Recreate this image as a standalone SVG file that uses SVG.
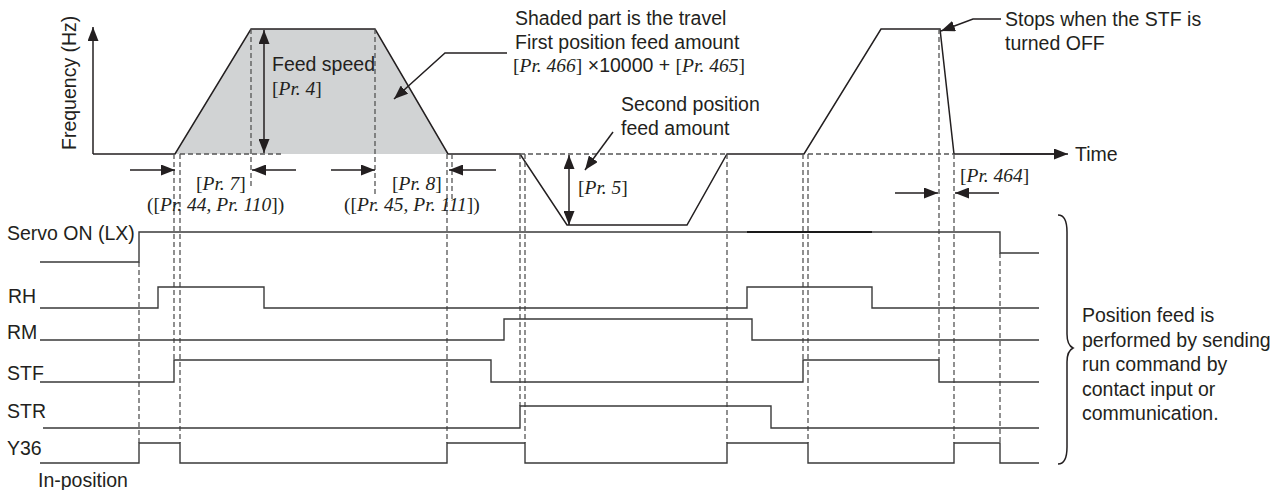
<svg xmlns="http://www.w3.org/2000/svg" width="1287" height="490" viewBox="0 0 1287 490">
<style>
.ln{stroke:#231f20;stroke-width:1.5;fill:none}
.sig{stroke:#3a3a3a;stroke-width:1.4;fill:none}
.dash{stroke:#555;stroke-width:1.3;stroke-dasharray:5 3;fill:none}
.t{font-family:"Liberation Sans",Arial,sans-serif;font-size:19.5px;fill:#231f20}
.s{font-family:"Liberation Serif","Times New Roman",serif;font-size:19.5px;fill:#231f20}
.it{font-style:italic}
.ar{stroke:#231f20;stroke-width:1.5;fill:none;marker-end:url(#ah)}
.ar2{stroke:#231f20;stroke-width:1.5;fill:none;marker-start:url(#ah);marker-end:url(#ah)}
</style>
<defs>
<marker id="ah" markerUnits="userSpaceOnUse" markerWidth="15" markerHeight="11" refX="14" refY="5.5" orient="auto-start-reverse" viewBox="0 0 15 11">
<path d="M0,0 L14,5.5 L0,11 z" fill="#231f20"/>
</marker>
</defs>
<rect width="1287" height="490" fill="#fff"/>

<g id="frequency-graph">
<polygon points="175,154 251,29 375,29 448,154" fill="#d1d3d4"/>
<polyline class="ln" points="93,154 175,154 251,29 375,29 448,154 520,154 567,225 687,225 727,154 804,154 881,29 940,29 954,154 1060,154"/>
<line class="ar" x1="93" y1="154" x2="93" y2="27"/>
<line class="ar" x1="1000" y1="154" x2="1068" y2="154"/>
<line class="dash" x1="180" y1="154" x2="283" y2="154"/>
<line class="dash" x1="520" y1="154" x2="727" y2="154"/>
<line class="dash" x1="808" y1="154" x2="953" y2="154"/>
<text class="t" transform="translate(76,150) rotate(-90)">Frequency (Hz)</text>
<text class="t" x="1075" y="161">Time</text>
</g>

<g id="guides">
<line class="dash" x1="139" y1="262" x2="139" y2="443"/>
<line class="dash" x1="174" y1="154" x2="174" y2="360"/>
<line class="dash" x1="180" y1="154" x2="180" y2="443"/>
<line class="dash" x1="251" y1="29" x2="251" y2="187"/>
<line class="dash" x1="375" y1="29" x2="375" y2="195"/>
<line class="dash" x1="447" y1="154" x2="447" y2="443"/>
<line class="dash" x1="452" y1="154" x2="452" y2="200"/>
<line class="dash" x1="520" y1="154" x2="520" y2="406"/>
<line class="dash" x1="525" y1="154" x2="525" y2="443"/>
<line class="dash" x1="727" y1="154" x2="727" y2="443"/>
<line class="dash" x1="803" y1="154" x2="803" y2="360"/>
<line class="dash" x1="808" y1="154" x2="808" y2="443"/>
<line class="dash" x1="939" y1="29" x2="939" y2="360"/>
<line class="dash" x1="954" y1="154" x2="954" y2="443"/>
<line class="dash" x1="1000" y1="253" x2="1000" y2="443"/>
</g>

<g id="connectors">
<line class="ar2" x1="264" y1="30" x2="264" y2="153"/>
<line class="ar" x1="130" y1="170" x2="175" y2="170"/>
<line class="ar" x1="296" y1="170" x2="252" y2="170"/>
<line class="ar" x1="331" y1="170" x2="375" y2="170"/>
<line class="ar" x1="496" y1="170" x2="449" y2="170"/>
<line class="ar2" x1="569" y1="155" x2="569" y2="225"/>
<line class="ar" x1="895" y1="193" x2="938" y2="193"/>
<line class="ar" x1="999" y1="193" x2="955" y2="193"/>
<polyline class="ar" points="507,53 445,53 394,99"/>
<line class="ar" x1="613" y1="132" x2="585" y2="170"/>
<polyline class="ar" points="1001,19 973,19 941,31"/>
</g>

<g id="annotations">
<text class="t" x="272" y="71">Feed speed</text>
<text class="s" x="272" y="95">[<tspan class="it">Pr. 4</tspan>]</text>
<text class="s" x="196" y="190">[<tspan class="it">Pr. 7</tspan>]</text>
<text class="s" x="147" y="211">([<tspan class="it">Pr. 44, Pr. 110</tspan>])</text>
<text class="s" x="392" y="190">[<tspan class="it">Pr. 8</tspan>]</text>
<text class="s" x="344" y="211">([<tspan class="it">Pr. 45, Pr. 111</tspan>])</text>
<text class="s" x="578" y="194">[<tspan class="it">Pr. 5</tspan>]</text>
<text class="s" x="960" y="182">[<tspan class="it">Pr. 464</tspan>]</text>
<text class="t" x="515" y="25">Shaded part is the travel</text>
<text class="t" x="515" y="48.5">First position feed amount</text>
<text class="s" x="513" y="72">[<tspan class="it">Pr. 466</tspan>]<tspan class="t"> ×10000 + </tspan>[<tspan class="it">Pr. 465</tspan>]</text>
<text class="t" x="621" y="110.5">Second position</text>
<text class="t" x="621" y="135">feed amount</text>
<text class="t" x="1005" y="26">Stops when the STF is</text>
<text class="t" x="1005" y="50">turned OFF</text>
</g>

<g id="signals">
<polyline class="sig" points="40,262 139,262 139,232 1000,232 1000,253 1039,253"/>
<line x1="747" y1="232" x2="872" y2="232" stroke="#1a1a1a" stroke-width="2.2"/>
<polyline class="sig" points="40,308 158,308 158,287 264,287 264,308 747,308 747,287 872,287 872,308 1039,308"/>
<polyline class="sig" points="40,340 504,340 504,319 752,319 752,340 1039,340"/>
<polyline class="sig" points="40,382 174,382 174,360 491,360 491,382 803,382 803,360 939,360 939,382 1039,382"/>
<polyline class="sig" points="43,428 520,428 520,406 771,406 771,428 1039,428"/>
<polyline class="sig" points="40,463 139,463 139,443 180,443 180,463 447,463 447,443 525,443 525,463 727,463 727,443 808,443 808,463 954,463 954,443 1000,443 1000,463 1039,463"/>
<text class="t" x="7" y="240">Servo ON (LX)</text>
<text class="t" x="8" y="303">RH</text>
<text class="t" x="7" y="339">RM</text>
<text class="t" x="7" y="380">STF</text>
<text class="t" x="7" y="418">STR</text>
<text class="t" x="7" y="455">Y36</text>
<text class="t" x="38" y="487">In-position</text>
</g>

<g id="note">
<path class="ln" d="M1058,215 C1065,215 1067,222 1067,232 L1067,334 C1067,342 1069,346 1073,348 C1069,350 1067,354 1067,362 L1067,447 C1067,457 1065,464 1058,464"/>
<text class="t" x="1082" y="322">Position feed is</text>
<text class="t" x="1082" y="346.5">performed by sending</text>
<text class="t" x="1082" y="371">run command by</text>
<text class="t" x="1082" y="395.5">contact input or</text>
<text class="t" x="1082" y="420">communication.</text>
</g>
</svg>
